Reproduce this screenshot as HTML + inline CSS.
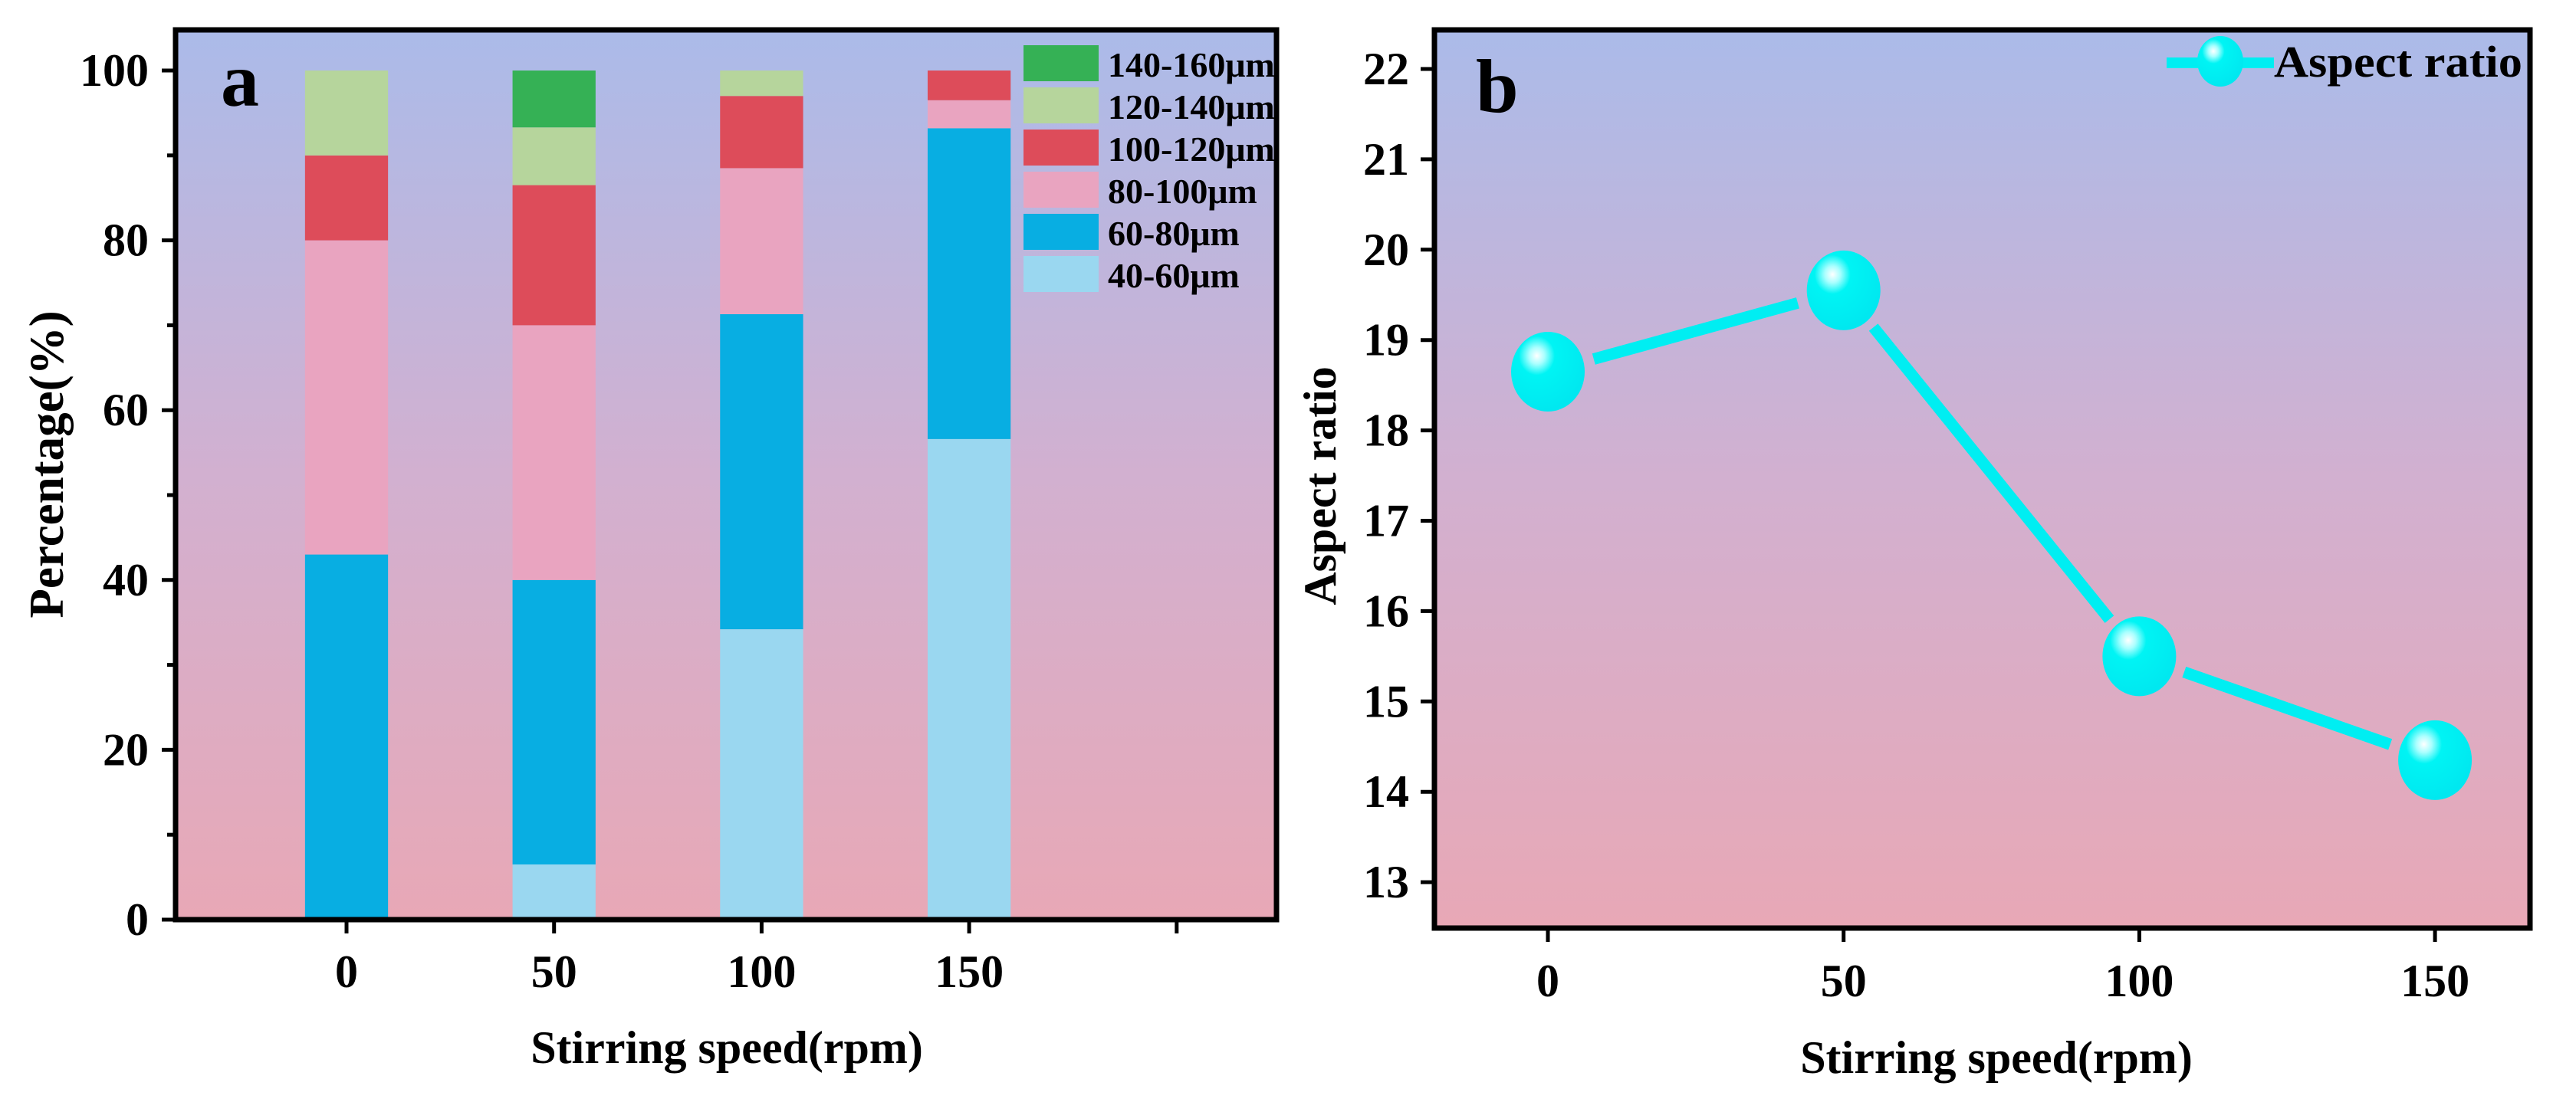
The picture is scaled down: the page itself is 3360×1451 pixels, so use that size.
<!DOCTYPE html>
<html><head><meta charset="utf-8"><style>
html,body{margin:0;padding:0;background:#fff;}
svg{display:block;font-family:"Liberation Serif",serif;font-weight:bold;}
</style></head><body>
<svg id="chart" width="3360" height="1451" viewBox="0 0 3360 1451" xmlns="http://www.w3.org/2000/svg">
<defs>
<linearGradient id="bg" x1="0" y1="0" x2="0" y2="1"><stop offset="0" stop-color="#abbbe9"/><stop offset="0.5" stop-color="#d2b0d0"/><stop offset="1" stop-color="#e8a8b6"/></linearGradient>
<radialGradient id="ball" cx="0.35" cy="0.3" r="0.7"><stop offset="0" stop-color="#ffffff"/><stop offset="0.15" stop-color="#aaffff"/><stop offset="0.35" stop-color="#00f4f4"/><stop offset="1" stop-color="#00e8f0"/></radialGradient>
</defs>
<g id="pa"></g>
<g id="pb"></g>
</svg>
<script>
const categories=[0,50,100,150];
const seriesNames=["40-60μm","60-80μm","80-100μm","100-120μm","120-140μm","140-160μm"];
const s40=[0,6.5,34.2,56.6];
const s60=[43,33.5,37.1,36.6];
const s80=[37,30,17.2,3.3];
const s100=[10,16.5,8.5,3.5];
const s120=[10,6.8,3,0];
const s140=[0,6.7,0,0];
const colors=["#9ad7f0","#08aee2","#e9a4c0","#dd4c5a","#b6d59c","#35b155"];
const yTicksA=[0,20,40,60,80,100];
const aspect=[18.65,19.55,15.5,14.35];
const yTicksB=[13,14,15,16,17,18,19,20,21,22];
const NS="http://www.w3.org/2000/svg";
function mk(p,t,a,txt){const e=document.createElementNS(NS,t);for(const k in a)e.setAttribute(k,a[k]);if(txt!==undefined)e.textContent=txt;p.appendChild(e);return e;}

// Panel a
const A=document.getElementById('pa');
const ax={l:229,t:39,r:1665,b:1200};
const xA=v=>452+(v)*270.7/50;
const yA=v=>1200-(v)*(1200-92)/100;
let e=mk(A,'rect',{x:ax.l,y:ax.t,width:ax.r-ax.l,height:ax.b-ax.t,fill:'url(#bg)'});

const series=[s40,s60,s80,s100,s120,s140];
categories.forEach((c,i)=>{let base=0;series.forEach((s,k)=>{const v=s[i];if(v>0){const r=mk(A,'rect',{x:xA(c-10),y:yA(base+v),width:xA(10)-xA(-10),height:yA(base)-yA(base+v),fill:colors[k]});

}base+=v;});});
mk(A,'rect',{x:ax.l,y:ax.t,width:ax.r-ax.l,height:ax.b-ax.t,fill:'none',stroke:'#000','stroke-width':7});
for(let v=0;v<=100;v+=10){const y=yA(v);mk(A,'line',{x1:ax.l,x2:ax.l-(v%20==0?18:11),y1:y,y2:y,stroke:'#000','stroke-width':5});}
yTicksA.forEach(v=>{const t=mk(A,'text',{x:194,y:yA(v)+20,'text-anchor':'end','font-size':60},v);
});
[0,50,100,150,200].forEach(v=>{mk(A,'line',{x1:xA(v),x2:xA(v),y1:ax.b,y2:ax.b+18,stroke:'#000','stroke-width':5});});
categories.forEach(v=>{const t=mk(A,'text',{x:xA(v),y:1288,'text-anchor':'middle','font-size':60},v);
});
e=mk(A,'text',{x:948,y:1387,'text-anchor':'middle','font-size':60},'Stirring speed(rpm)');

e=mk(A,'text',{x:0,y:0,'text-anchor':'middle','font-size':63,transform:'translate(82,606) rotate(-90)'},'Percentage(%)');

e=mk(A,'text',{x:288,y:138,'font-size':100},'a');

for(let k=5;k>=0;k--){const row=5-k;const y=59+row*55;
const r=mk(A,'rect',{x:1335,y:y,width:98,height:47,fill:colors[k]});

const t=mk(A,'text',{x:1445,y:y+41,'font-size':46},seriesNames[k]);
}

// Panel b
const B=document.getElementById('pb');
const bx={l:1871,t:39,r:3300,b:1211};
const xB=v=>2019+v*385.7/50;
const yB=v=>90+(22-v)*117.9;
e=mk(B,'rect',{x:bx.l,y:bx.t,width:bx.r-bx.l,height:bx.b-bx.t,fill:'url(#bg)'});

const R=48;
for(let i=0;i<aspect.length-1;i++){const x1=xB(categories[i]),y1=yB(aspect[i]),x2=xB(categories[i+1]),y2=yB(aspect[i+1]);
const d=Math.hypot(x2-x1,y2-y1),ux=(x2-x1)/d,uy=(y2-y1)/d,g=R+14;
const l=mk(B,'line',{x1:x1+ux*g,y1:y1+uy*g,x2:x2-ux*g,y2:y2-uy*g,stroke:'#00eef2','stroke-width':15});
}
aspect.forEach((v,i)=>{const c=mk(B,'ellipse',{cx:xB(categories[i]),cy:yB(v),rx:R,ry:R+4,fill:'url(#ball)'});
});
mk(B,'rect',{x:bx.l,y:bx.t,width:bx.r-bx.l,height:bx.b-bx.t,fill:'none',stroke:'#000','stroke-width':7});
yTicksB.forEach(v=>{mk(B,'line',{x1:bx.l,x2:bx.l-18,y1:yB(v),y2:yB(v),stroke:'#000','stroke-width':5});
const t=mk(B,'text',{x:1838,y:yB(v)+20,'text-anchor':'end','font-size':60},v);
});
categories.forEach(v=>{mk(B,'line',{x1:xB(v),x2:xB(v),y1:bx.b,y2:bx.b+18,stroke:'#000','stroke-width':5});
const t=mk(B,'text',{x:xB(v),y:1300,'text-anchor':'middle','font-size':60},v);
});
e=mk(B,'text',{x:2604,y:1400,'text-anchor':'middle','font-size':60},'Stirring speed(rpm)');

e=mk(B,'text',{x:0,y:0,'text-anchor':'middle','font-size':60,transform:'translate(1742,634) rotate(-90)'},'Aspect ratio');

e=mk(B,'text',{x:1925,y:146,'font-size':100},'b');

mk(B,'line',{x1:2826,x2:2870,y1:82,y2:82,stroke:'#00eef2','stroke-width':14});
mk(B,'line',{x1:2922,x2:2966,y1:82,y2:82,stroke:'#00eef2','stroke-width':14});
e=mk(B,'ellipse',{cx:2896,cy:80,rx:30,ry:33,fill:'url(#ball)'});

e=mk(B,'text',{x:2966,y:100,'font-size':58,textLength:324,lengthAdjust:'spacingAndGlyphs'},'Aspect ratio');

</script>
</body></html>
